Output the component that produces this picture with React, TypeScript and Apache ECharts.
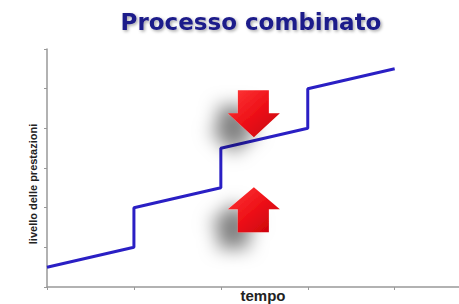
import React, { useEffect, useRef } from "react";
import * as echarts from "echarts";

const titleText = "Processo combinato";
const yAxisName = "livello delle prestazioni";
const xAxisName = "tempo";
const xTicks = [0, 1, 2, 3, 4];
const linePoints: [number, number][] = [
  [0, 0.5],
  [1, 1],
  [1, 2],
  [2, 2.5],
  [2, 3.5],
  [3, 4],
  [3, 5],
  [4, 5.5],
];
const arrowDown: [number, number] = [2.38, 4.37];
const arrowUp: [number, number] = [2.38, 1.95];

const DOWN_PATH = "path://M10 0 L41 0 L41 23 L52 23 L26 47 L0 23 L10 23 Z";
const UP_PATH = "path://M26 0 L52 22 L41 22 L41 45 L10 45 L10 22 L0 22 Z";

export default function App() {
  const ref = useRef<HTMLDivElement>(null);
  useEffect(() => {
    document.body.style.margin = "0";
    if (!ref.current) return;
    const chart = echarts.init(ref.current, null, { renderer: "svg" });
    const red = new echarts.graphic.LinearGradient(0, 0, 1, 1, [
      { offset: 0, color: "#ff3a3a" },
      { offset: 0.5, color: "#ee1118" },
      { offset: 1, color: "#c4000a" },
    ]);
    const arrowStyle = {
      color: red,
      shadowColor: "rgba(0,0,0,0.5)",
      shadowBlur: 18,
      shadowOffsetX: -20,
      shadowOffsetY: 16,
    };
    chart.setOption({
      animation: false,
      grid: { left: 47, top: 49, right: 0, bottom: 17 },
      xAxis: {
        type: "value",
        min: 0,
        max: 4.74,
        axisLine: { show: true, lineStyle: { color: "#999", width: 1.5 } },
        axisTick: {
          show: true,
          length: 3,
          customValues: xTicks,
          lineStyle: { color: "#999" },
        },
        axisLabel: { show: false },
        splitLine: { show: false },
      },
      yAxis: {
        type: "value",
        min: 0,
        max: 6,
        interval: 1,
        axisLine: { show: true, lineStyle: { color: "#999", width: 1.5 } },
        axisTick: { show: true, length: 3, lineStyle: { color: "#999" } },
        axisLabel: { show: false },
        splitLine: { show: false },
      },
      graphic: [
        {
          type: "text",
          x: 251,
          y: 22,
          style: {
            text: titleText,
            fontFamily: "DejaVu Sans",
            fontWeight: "bold",
            fontSize: 23,
            fill: "#1c1a8a",
            align: "center",
            verticalAlign: "middle",
            textShadowColor: "rgba(0,0,0,0.35)",
            textShadowBlur: 3,
            textShadowOffsetX: 1.5,
            textShadowOffsetY: 1.5,
          },
        },
        {
          type: "text",
          x: 33,
          y: 184,
          rotation: Math.PI / 2,
          style: {
            text: yAxisName,
            fontFamily: "Liberation Sans",
            fontWeight: "bold",
            fontSize: 11,
            fill: "#222",
            align: "center",
            verticalAlign: "middle",
          },
        },
        {
          type: "text",
          x: 263,
          y: 303,
          style: {
            text: xAxisName,
            fontFamily: "Liberation Sans",
            fontWeight: "bold",
            fontSize: 15,
            fill: "#222",
            align: "center",
            verticalAlign: "bottom",
          },
        },
      ],
      series: [
        {
          type: "line",
          data: linePoints,
          symbol: "none",
          lineStyle: { color: "#2a1fc4", width: 3 },
          markPoint: {
            silent: true,
            label: { show: false },
            data: [
              {
                coord: arrowDown,
                symbol: DOWN_PATH,
                symbolSize: [52, 47],
                itemStyle: arrowStyle,
              },
              {
                coord: arrowUp,
                symbol: UP_PATH,
                symbolSize: [52, 45],
                itemStyle: arrowStyle,
              },
            ],
          },
        },
      ],
    });
    return () => chart.dispose();
  }, []);
  return <div ref={ref} style={{ width: 459, height: 304 }} />;
}
